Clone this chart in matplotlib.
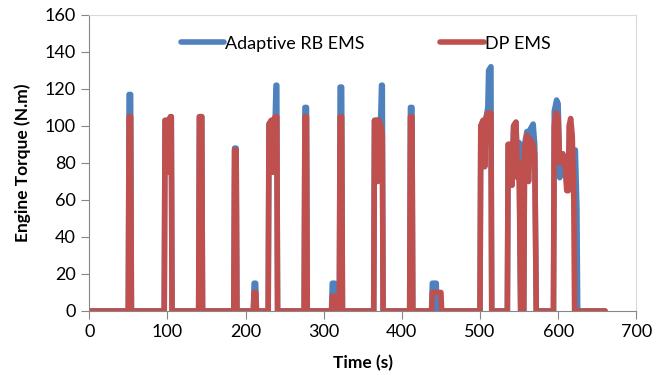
import numpy as np
import matplotlib.pyplot as plt

plt.rcParams['font.family'] = ['Lato', 'DejaVu Sans']

# breakpoints of each torque trace (time s, torque N.m)
t_rb = [0, 50, 51, 53, 54,
        96, 97, 100, 101, 102, 104, 105, 106,
        140, 141, 144, 145,
        185, 186, 188, 189,
        210, 211, 213, 214,
        229, 230, 233, 235, 236, 238, 239, 240, 241,
        275, 276, 278, 279,
        310, 311, 314, 315,
        320, 321, 323, 324,
        364, 365, 368, 369, 371, 373, 374, 375, 376,
        410, 411, 413, 414,
        438, 439, 444, 445,
        500, 501, 504, 506, 508, 510, 511, 514, 515,
        535, 536, 539, 541, 543, 546, 548, 550, 552,
        556, 557, 560, 562, 564, 568, 570, 572,
        594, 595, 598, 600, 602, 604, 606, 609, 612, 614, 617, 620, 622, 624, 625,
        660]
q_rb = [0, 0, 117, 117, 0,
        0, 103, 103, 75, 103, 105, 105, 0,
        0, 105, 105, 0,
        0, 88, 88, 0,
        0, 15, 15, 0,
        0, 101, 103, 75, 103, 105, 122, 122, 0,
        0, 110, 110, 0,
        0, 15, 15, 0,
        0, 121, 121, 0,
        0, 103, 103, 70, 103, 105, 122, 122, 0,
        0, 110, 110, 0,
        0, 15, 15, 0,
        0, 100, 103, 78, 105, 110, 130, 132, 0,
        0, 90, 90, 68, 100, 102, 75, 91, 0,
        0, 90, 97, 70, 98, 101, 90, 0,
        0, 108, 114, 112, 72, 75, 85, 80, 70, 80, 85, 87, 87, 55, 0,
        0]

t_dp = [0, 50, 51, 53, 54,
        96, 97, 100, 101, 102, 104, 105, 106,
        140, 141, 144, 145,
        185, 186, 188, 189,
        210, 211, 213, 214,
        229, 230, 233, 235, 236, 238, 240, 241,
        275, 276, 278, 279,
        310, 311, 314, 315,
        320, 321, 323, 324,
        364, 365, 368, 369, 371, 373, 375, 376,
        410, 411, 413, 414,
        438, 439, 450, 451,
        500, 501, 504, 506, 508, 510, 514, 515,
        535, 536, 539, 541, 543, 546, 548, 550, 552,
        556, 557, 560, 562, 564, 568, 570, 572,
        594, 595, 597, 600, 602, 605, 608, 611, 613, 614, 616, 618, 620, 621,
        660]
q_dp = [0, 0, 105, 105, 0,
        0, 103, 103, 75, 103, 105, 105, 0,
        0, 105, 105, 0,
        0, 87, 87, 0,
        0, 10, 10, 0,
        0, 101, 103, 75, 103, 105, 105, 0,
        0, 105, 105, 0,
        0, 8, 8, 0,
        0, 105, 105, 0,
        0, 103, 103, 70, 103, 100, 95, 0,
        0, 105, 105, 0,
        0, 10, 10, 0,
        0, 100, 103, 78, 105, 107, 107, 0,
        0, 90, 90, 68, 100, 102, 72, 80, 0,
        0, 88, 95, 70, 93, 90, 85, 0,
        0, 100, 107, 105, 80, 85, 83, 65, 65, 100, 104, 95, 60, 0,
        0]

fig = plt.figure(figsize=(6.56, 3.82), dpi=100)
ax = fig.add_axes([0.136, 0.186, 0.834, 0.775])

ax.plot(t_rb, q_rb, color='#4F81BD', lw=4, solid_joinstyle='round',
        solid_capstyle='round', label='Adaptive RB EMS')
ax.plot(t_dp, q_dp, color='#C0504D', lw=4, solid_joinstyle='round',
        solid_capstyle='round', label='DP EMS')

ax.set_xlim(0, 700)
ax.set_ylim(0, 160)
ax.set_xticks(np.arange(0, 701, 100))
ax.set_yticks(np.arange(0, 161, 20))
ax.tick_params(labelsize=13, color='#868686', length=6, width=0.8)
ax.set_xlabel('Time (s)', fontsize=12.5, fontweight='bold', labelpad=11)
ax.set_ylabel('Engine Torque (N.m)', fontsize=12.5, fontweight='bold', labelpad=10)
for s in ['left', 'bottom']:
    ax.spines[s].set_color('#868686')
for s in ['top', 'right']:
    ax.spines[s].set_color('#D9D9D9')

ax.legend(loc='upper center', bbox_to_anchor=(0.505, 0.985), ncol=2,
          frameon=False, fontsize=13, handlelength=2.4, handletextpad=0.05,
          columnspacing=4.2)

plt.savefig('out.png', dpi=100)
